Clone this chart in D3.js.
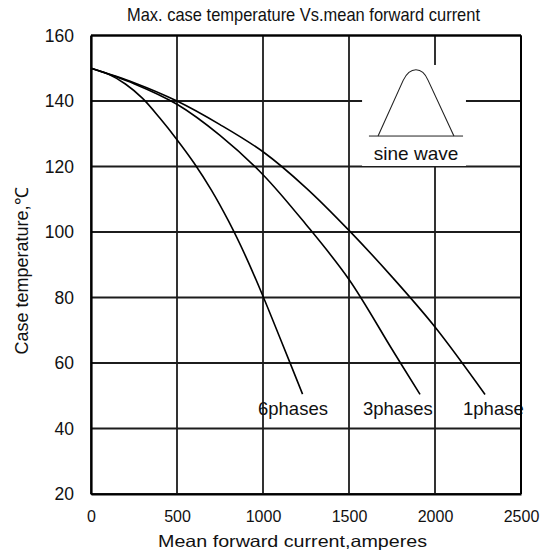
<!DOCTYPE html>
<html>
<head>
<meta charset="utf-8">
<script src="https://cdn.jsdelivr.net/npm/d3@7"></script>
<style>
  html, body { margin: 0; padding: 0; background: #fff; }
  svg { display: block; }
  text { font-family: "Liberation Sans", Arial, sans-serif; fill: #111; }
</style>
</head>
<body>
<svg id="chart" width="547" height="557"></svg>
<script>
// ---- data ----
const xTicks = [0, 500, 1000, 1500, 2000, 2500];
const yTicks = [20, 40, 60, 80, 100, 120, 140, 160];

const phase1X = [0, 250, 500, 750, 1000, 1250, 1500, 1750, 2000, 2291];
const phase1Y = [150, 145.6, 140, 132.8, 124.5, 113.5, 100.5, 86.3, 71, 50.4];

const phase3X = [0, 250, 500, 750, 1000, 1250, 1500, 1750, 1913];
const phase3Y = [150, 145.3, 139, 129.5, 117.5, 102.3, 85.5, 64.2, 50.4];

const phase6X = [0, 100, 200, 300, 400, 500, 600, 700, 800, 900, 1000, 1100, 1230];
const phase6Y = [150, 148.2, 145.2, 140.8, 134.8, 128.2, 121, 112.8, 103.3, 92.5, 80.4, 67.5, 50.5];

const seriesLabels = ["1phase", "3phases", "6phases"];
const labelX = [2163, 1581, 971];
const labelY = [44.1, 44.1, 44.1];

const titleText = "Max. case temperature  Vs.mean forward current";
const xTitle = "Mean forward  current,amperes";
const yTitle = "Case temperature,\u2103";
const insetText = "sine wave";

// ---- layout ----
const svg = d3.select("#chart");
const x = d3.scaleLinear().domain([0, 2500]).range([91, 521]);
const y = d3.scaleLinear().domain([20, 160]).range([494, 35.5]);

const gridColor = "#1c1c1c";

// grid
const g = svg.append("g");
g.selectAll("line.v").data(xTicks).enter().append("line")
  .attr("x1", d => x(d)).attr("x2", d => x(d))
  .attr("y1", y(160)).attr("y2", y(20))
  .attr("stroke", gridColor).attr("stroke-width", 1.8);
g.selectAll("line.h").data(yTicks).enter().append("line")
  .attr("x1", x(0)).attr("x2", x(2500))
  .attr("y1", d => y(d)).attr("y2", d => y(d))
  .attr("stroke", gridColor).attr("stroke-width", 1.8);

// inset (sine wave icon) - white box
const inset = svg.append("g");
inset.append("rect")
  .attr("x", x(1576)).attr("y", y(151))
  .attr("width", x(2180) - x(1576)).attr("height", y(120.15) - y(151))
  .attr("fill", "#fff");
inset.append("line")
  .attr("x1", x(1616)).attr("x2", x(2163))
  .attr("y1", y(129.3)).attr("y2", y(129.3))
  .attr("stroke", "#222").attr("stroke-width", 1);
const hump = d3.path();
hump.moveTo(x(1669), y(129.3));
hump.lineTo(x(1815), y(146.3));
hump.bezierCurveTo(x(1855), y(150.6), x(1925), y(150.6), x(1960), y(146.3));
hump.lineTo(x(2110), y(129.3));
inset.append("path").attr("d", hump.toString())
  .attr("fill", "none").attr("stroke", "#222").attr("stroke-width", 1.1);
inset.append("text")
  .attr("x", x(1890)).attr("y", y(122))
  .attr("text-anchor", "middle")
  .attr("font-size", 19)
  .text(insetText);

// curves
const line = d3.line().x(d => x(d[0])).y(d => y(d[1])).curve(d3.curveCatmullRom.alpha(0.5));
const series = [
  d3.zip(phase1X, phase1Y),
  d3.zip(phase3X, phase3Y),
  d3.zip(phase6X, phase6Y)
];
svg.append("g").selectAll("path").data(series).enter().append("path")
  .attr("d", line)
  .attr("fill", "none").attr("stroke", "#000").attr("stroke-width", 1.6);

// series labels
svg.append("g").selectAll("text").data(seriesLabels).enter().append("text")
  .attr("x", (d, i) => x(labelX[i])).attr("y", (d, i) => y(labelY[i]))
  .attr("font-size", 18.5)
  .text(d => d);

// axes
const xAxis = svg.append("g").attr("transform", `translate(0,${y(20)})`)
  .call(d3.axisBottom(x).tickValues(xTicks).tickSize(0).tickPadding(17).tickFormat(d3.format("d")));
xAxis.select(".domain").attr("stroke", "#000").attr("stroke-width", 2.2);
xAxis.selectAll("text").attr("font-size", 16).attr("fill", "#111")
  .attr("font-family", "Liberation Sans, Arial, sans-serif")
  .attr("dy", "0.71em");

const yAxis = svg.append("g").attr("transform", `translate(${x(0)},0)`)
  .call(d3.axisLeft(y).tickValues(yTicks).tickSize(0).tickPadding(17).tickFormat(d3.format("d")));
yAxis.select(".domain").attr("stroke", "#000").attr("stroke-width", 2.2);
yAxis.selectAll("text").attr("font-size", 17.5).attr("fill", "#111")
  .attr("font-family", "Liberation Sans, Arial, sans-serif");

// top/right frame
svg.append("line").attr("x1", x(0)).attr("x2", x(2500)).attr("y1", y(160)).attr("y2", y(160))
  .attr("stroke", "#000").attr("stroke-width", 2);
svg.append("line").attr("x1", x(2500)).attr("x2", x(2500)).attr("y1", y(160)).attr("y2", y(20))
  .attr("stroke", "#000").attr("stroke-width", 2);

// titles
svg.append("text")
  .attr("x", 303.5).attr("y", 21)
  .attr("text-anchor", "middle")
  .attr("font-size", 18.5)
  .attr("textLength", 353).attr("lengthAdjust", "spacingAndGlyphs")
  .text(titleText);

svg.append("text")
  .attr("x", 292.5).attr("y", 546.5)
  .attr("text-anchor", "middle")
  .attr("font-size", 16.5)
  .attr("textLength", 269).attr("lengthAdjust", "spacingAndGlyphs")
  .text(xTitle);

svg.append("text")
  .attr("transform", "translate(28,271) rotate(-90)")
  .attr("text-anchor", "middle")
  .attr("font-size", 18)
  .text(yTitle);
</script>
</body>
</html>
